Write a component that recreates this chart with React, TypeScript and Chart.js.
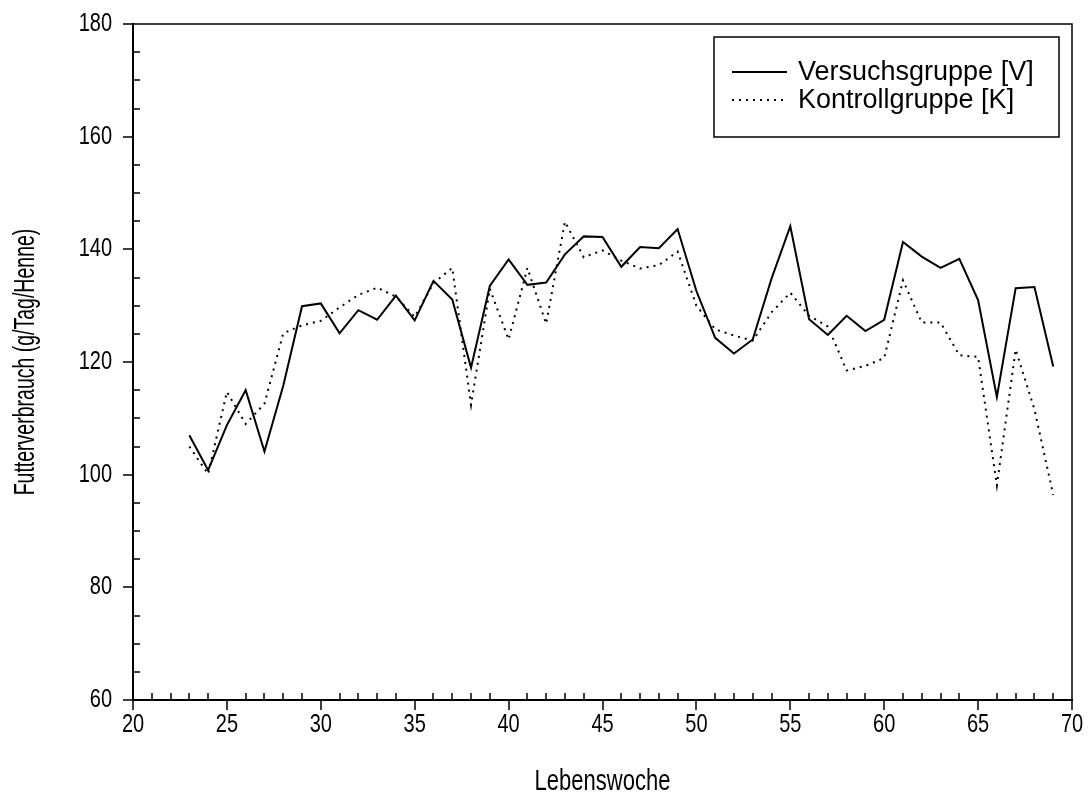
import { useEffect, useRef } from "react";
import { Chart, registerables } from "chart.js";

Chart.register(...registerables);

// Lebenswoche (week of life)
const weeks = [
  23, 24, 25, 26, 27, 28, 29, 30, 31, 32, 33, 34, 35, 36, 37, 38, 39, 40, 41, 42, 43, 44, 45, 46,
  47, 48, 49, 50, 51, 52, 53, 54, 55, 56, 57, 58, 59, 60, 61, 62, 63, 64, 65, 66, 67, 68, 69,
];

// Futterverbrauch, Versuchsgruppe [V] (g/Tag/Henne)
const versuchsgruppe = [
  107.0, 100.8, 108.8, 115.0, 104.1, 115.8, 129.9, 130.4, 125.1, 129.2, 127.5, 131.8, 127.4, 134.4,
  131.1, 119.0, 133.5, 138.2, 133.7, 134.1, 139.1, 142.3, 142.2, 136.9, 140.4, 140.2, 143.6, 132.6,
  124.3, 121.5, 124.0, 134.8, 144.1, 127.6, 124.8, 128.2, 125.5, 127.5, 141.3, 138.7, 136.7, 138.3,
  131.0, 113.8, 133.1, 133.3, 119.2,
];

// Futterverbrauch, Kontrollgruppe [K] (g/Tag/Henne)
const kontrollgruppe = [
  105.0, 100.1, 114.7, 109.0, 112.6, 125.1, 126.5, 127.3, 129.7, 131.9, 133.2, 131.6, 128.0, 134.0,
  136.7, 112.4, 133.0, 124.0, 136.7, 126.8, 144.9, 138.6, 139.8, 138.0, 136.6, 137.2, 139.6, 130.0,
  125.8, 124.7, 123.8, 128.8, 132.3, 128.2, 126.3, 118.5, 119.3, 120.7, 134.5, 127.0, 127.0, 121.2,
  120.9, 98.1, 122.2, 111.6, 96.4,
];

const seriesLabels = ["Versuchsgruppe [V]", "Kontrollgruppe [K]"];
const xTitle = "Lebenswoche";
const yTitle = "Futterverbrauch (g/Tag/Henne)";

const xRange = [20, 70];
const yRange = [60, 180];
const xMajorStep = 5;
const xMinorStep = 1;
const yMajorStep = 20;
const yMinorStep = 5;

const FONT = "Arial, 'Liberation Sans', Helvetica, sans-serif";
const DOT_DASH = [2, 5];

// Text with independent horizontal / vertical glyph scaling
function drawText(
  ctx: CanvasRenderingContext2D,
  text: string,
  x: number,
  y: number,
  size: number,
  sx: number,
  sy: number,
  align: CanvasTextAlign,
  rotation = 0
) {
  ctx.save();
  ctx.translate(x, y);
  if (rotation) ctx.rotate(rotation);
  ctx.scale(sx, sy);
  ctx.font = `${size}px ${FONT}`;
  ctx.fillStyle = "#000";
  ctx.textAlign = align;
  ctx.textBaseline = "middle";
  ctx.fillText(text, 0, 0);
  ctx.restore();
}

// Box frame, tick marks (major outside, minor inside), tick labels and axis titles
const axesPlugin = {
  id: "axesFrame",
  afterDraw(chart: any) {
    const { ctx, chartArea } = chart;
    const { left, right, top, bottom } = chartArea;
    const xs = chart.scales.x;
    const ys = chart.scales.y;
    ctx.save();
    ctx.strokeStyle = "#000";
    ctx.lineCap = "butt";

    ctx.lineWidth = 1.5;
    ctx.beginPath();
    ctx.moveTo(left, top);
    ctx.lineTo(right, top);
    ctx.lineTo(right, bottom);
    ctx.stroke();

    ctx.lineWidth = 2;
    ctx.beginPath();
    ctx.moveTo(left, top - 1);
    ctx.lineTo(left, bottom);
    ctx.lineTo(right + 1, bottom);
    ctx.stroke();

    ctx.lineWidth = 1.5;
    ctx.beginPath();
    for (let v = xRange[0]; v <= xRange[1] + 1e-9; v += xMinorStep) {
      const px = Math.round(xs.getPixelForValue(v));
      ctx.moveTo(px, bottom);
      ctx.lineTo(px, v % xMajorStep === 0 ? bottom + 10 : bottom - 7);
    }
    for (let v = yRange[0]; v <= yRange[1] + 1e-9; v += yMinorStep) {
      const py = Math.round(ys.getPixelForValue(v));
      ctx.moveTo(left, py);
      ctx.lineTo(v % yMajorStep === 0 ? left - 10 : left + 7, py);
    }
    ctx.stroke();

    xs.ticks.forEach((t: any) => {
      drawText(ctx, String(t.value), xs.getPixelForValue(t.value), bottom + 25, 20, 1, 1.25, "center");
    });
    ys.ticks.forEach((t: any) => {
      drawText(ctx, String(t.value), left - 21, ys.getPixelForValue(t.value), 20, 1, 1.25, "right");
    });

    drawText(ctx, xTitle, (left + right) / 2, bottom + 82, 22, 1, 1.35, "center");
    drawText(ctx, yTitle, 26, (top + bottom) / 2, 19.5, 1, 1.5, "center", -Math.PI / 2);
    ctx.restore();
  },
};

// Boxed legend in the upper right corner of the plot
const boxedLegendPlugin = {
  id: "boxedLegend",
  afterDraw(chart: any) {
    const { ctx, chartArea } = chart;
    const boxRight = chartArea.right - 13;
    const boxTop = chartArea.top + 13;
    const boxW = 345;
    const boxH = 100;
    const boxLeft = boxRight - boxW;
    ctx.save();
    ctx.strokeStyle = "#000";
    ctx.lineWidth = 1.5;
    ctx.strokeRect(boxLeft, boxTop, boxW, boxH);

    const rows = [boxTop + 35, boxTop + 63];
    chart.data.datasets.forEach((ds: any, i: number) => {
      const y = rows[i];
      ctx.beginPath();
      ctx.lineWidth = ds.borderWidth;
      ctx.setLineDash(ds.borderDash || []);
      ctx.moveTo(boxLeft + 18, y);
      ctx.lineTo(boxLeft + 73, y);
      ctx.stroke();
      ctx.setLineDash([]);
      drawText(ctx, ds.label, boxLeft + 84, y + 1, 27, 1, 1, "left");
    });
    ctx.restore();
  },
};

export default function App() {
  const canvasRef = useRef<HTMLCanvasElement | null>(null);

  useEffect(() => {
    const canvas = canvasRef.current;
    if (!canvas) return;
    const hiddenGrid = {
      display: true,
      drawOnChartArea: false,
      drawTicks: false,
      color: "rgba(0,0,0,0)",
    };
    const chart = new Chart(canvas, {
      type: "line",
      data: {
        datasets: [
          {
            label: seriesLabels[0],
            data: weeks.map((w, i) => ({ x: w, y: versuchsgruppe[i] })),
            borderColor: "#000",
            borderWidth: 2,
            pointRadius: 0,
            tension: 0,
            fill: false,
          },
          {
            label: seriesLabels[1],
            data: weeks.map((w, i) => ({ x: w, y: kontrollgruppe[i] })),
            borderColor: "#000",
            borderWidth: 2,
            borderDash: DOT_DASH,
            pointRadius: 0,
            tension: 0,
            fill: false,
          },
        ],
      },
      options: {
        animation: false,
        responsive: false,
        maintainAspectRatio: false,
        layout: { padding: { top: 24, right: 18, left: 0, bottom: 0 } },
        plugins: {
          legend: { display: false },
          tooltip: { enabled: false },
        },
        scales: {
          x: {
            type: "linear",
            min: xRange[0],
            max: xRange[1],
            afterFit: (s: any) => {
              s.height = 107;
            },
            ticks: { stepSize: xMajorStep, display: false },
            grid: hiddenGrid,
            border: { display: false },
          },
          y: {
            type: "linear",
            min: yRange[0],
            max: yRange[1],
            afterFit: (s: any) => {
              s.width = 133;
            },
            ticks: { stepSize: yMajorStep, display: false },
            grid: hiddenGrid,
            border: { display: false },
          },
        },
      },
      plugins: [axesPlugin, boxedLegendPlugin],
    });
    return () => chart.destroy();
  }, []);

  return (
    <div style={{ position: "fixed", left: 0, top: 0, width: 1090, height: 807, background: "#fff" }}>
      <canvas ref={canvasRef} width={1090} height={807} style={{ display: "block" }} />
    </div>
  );
}
